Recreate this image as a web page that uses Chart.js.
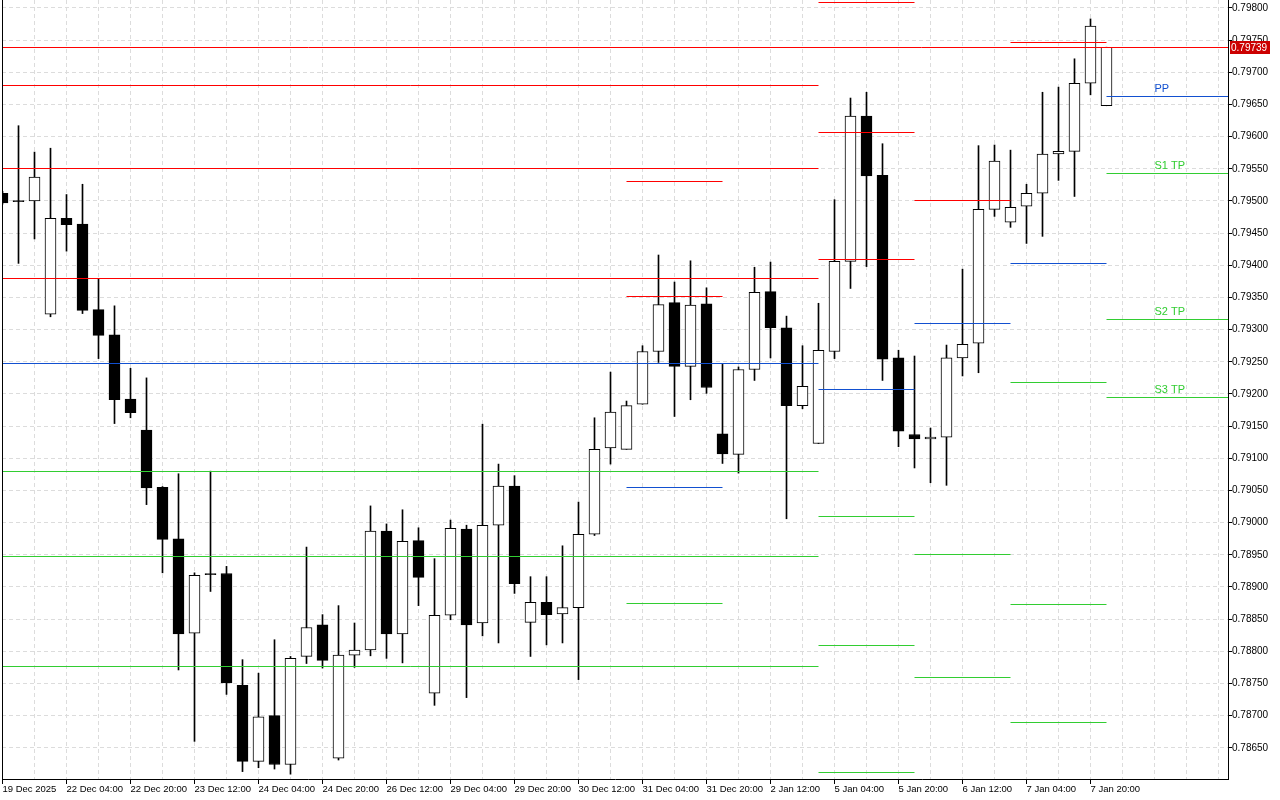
<!DOCTYPE html>
<html>
<head>
<meta charset="utf-8">
<script src="https://cdn.jsdelivr.net/npm/chart.js@4.4.1/dist/chart.umd.min.js"></script>
<style>
html,body{margin:0;padding:0;background:#ffffff;}
#wrap{width:1280px;height:800px;position:relative;}
canvas{display:block;}
</style>
</head>
<body>
<div id="wrap"><canvas id="c" width="1280" height="800"></canvas></div>
<script>
// ---------- DATA ----------
const timeLabels = ['19 Dec 2025','22 Dec 04:00','22 Dec 20:00','23 Dec 12:00','24 Dec 04:00','24 Dec 20:00',
  '26 Dec 12:00','29 Dec 04:00','29 Dec 20:00','30 Dec 12:00','31 Dec 04:00','31 Dec 20:00',
  '2 Jan 12:00','5 Jan 04:00','5 Jan 20:00','6 Jan 12:00','7 Jan 04:00','7 Jan 20:00'];

const opens = [0.79512,0.79500,0.79500,0.79324,0.79473,0.79464,0.79331,0.79292,0.79192,0.79144,
  0.79055,0.78975,0.78828,0.78921,0.78921,0.78747,0.78629,0.78700,0.78624,0.78792,
  0.78841,0.78634,0.78794,0.78802,0.78987,0.78827,0.78972,0.78735,0.78856,0.78990,
  0.78844,0.78996,0.79057,0.78845,0.78876,0.78858,0.78868,0.78982,0.79116,0.79114,
  0.79184,0.79266,0.79342,0.79243,0.79340,0.79138,0.79106,0.79238,0.79359,0.79303,
  0.79182,0.79123,0.79266,0.79406,0.79632,0.79540,0.79256,0.79137,0.79130,0.79133,
  0.79256,0.79279,0.79487,0.79467,0.79492,0.79512,0.79573,0.79577,0.79683,0.79648];
const highs = [0.79515,0.79617,0.79576,0.79582,0.79510,0.79526,0.79379,0.79337,0.79240,0.79225,
  0.79056,0.79076,0.78922,0.79080,0.78932,0.78787,0.78766,0.78818,0.78792,0.78962,
  0.78857,0.78871,0.78844,0.79026,0.78998,0.79020,0.78992,0.78944,0.79004,0.78996,
  0.79153,0.79091,0.79073,0.78916,0.78916,0.78964,0.79032,0.79163,0.79234,0.79189,
  0.79275,0.79416,0.79374,0.79407,0.79365,0.79246,0.79242,0.79397,0.79405,0.79321,
  0.79275,0.79341,0.79502,0.79660,0.79669,0.79589,0.79268,0.79259,0.79147,0.79276,
  0.79394,0.79586,0.79587,0.79579,0.79526,0.79669,0.79677,0.79721,0.79783,0.79739];
const lows = [0.79495,0.79403,0.79441,0.79320,0.79422,0.79325,0.79255,0.79154,0.79163,0.79028,
  0.78922,0.78771,0.78660,0.78893,0.78733,0.78613,0.78619,0.78617,0.78609,0.78781,
  0.78774,0.78631,0.78775,0.78793,0.78789,0.78782,0.78871,0.78716,0.78849,0.78728,
  0.78824,0.78813,0.78890,0.78792,0.78810,0.78813,0.78756,0.78980,0.79091,0.79114,
  0.79184,0.79249,0.79165,0.79191,0.79201,0.79092,0.79077,0.79221,0.79256,0.79006,
  0.79177,0.79123,0.79255,0.79364,0.79398,0.79221,0.79118,0.79085,0.79062,0.79058,
  0.79228,0.79233,0.79476,0.79459,0.79434,0.79445,0.79532,0.79507,0.79665,0.79648];
const closes = [0.79497,0.79499,0.79537,0.79473,0.79463,0.79330,0.79291,0.79191,0.79171,0.79054,
  0.78974,0.78827,0.78918,0.78919,0.78751,0.78629,0.78698,0.78624,0.78789,0.78837,
  0.78786,0.78794,0.78802,0.78987,0.78827,0.78971,0.78915,0.78856,0.78991,0.78841,
  0.78996,0.79057,0.78905,0.78876,0.78857,0.78868,0.78982,0.79114,0.79172,0.79182,
  0.79266,0.79339,0.79243,0.79338,0.79210,0.79107,0.79238,0.79358,0.79303,0.79182,
  0.79212,0.79268,0.79406,0.79632,0.79539,0.79254,0.79142,0.79130,0.79133,0.79256,
  0.79277,0.79487,0.79562,0.79490,0.79512,0.79573,0.79577,0.79683,0.79772,0.79739];

const lastPrice = 0.79739;

// pivot level segments (bar index from/to; null = chart edge)
const segFrom = [null, 39, 51, 57, 63, 69];
const segTo   = [51, 45, 57, 63, 69, null];
const segPivot = [0.79247, 0.79055, 0.79207, 0.79310, 0.79403, 0.79663];
const segResistance = [
  [0.79680, 0.79551, 0.79380],
  [0.79531, 0.79352],
  [0.79808, 0.79606, 0.79409],
  [0.79501],
  [0.79747],
  []
];
const segSupport = [
  [0.79079, 0.78947, 0.78777],
  [0.78875],
  [0.79010, 0.78809, 0.78612],
  [0.78951, 0.78760],
  [0.79218, 0.78873, 0.78690],
  [0.79543, 0.79315, 0.79195]
];
const currentLevelNames = ['PP', 'S1 TP', 'S2 TP', 'S3 TP'];

// ---------- LAYOUT / STYLE ----------
const X_MIN = -0.03125, X_MAX = 76.59375;
const Y_MIN = 0.786015, Y_MAX = 0.798124;
const RED = '#ff0000', BLUE = '#1250d0', GREEN = '#32cd32';
const GRID = '#dcdcdc';
const FONT = '"Liberation Sans", Arial, sans-serif';
const LABEL_BAR = 72;

const bodyData = opens.map((o, i) => ({x: i, y: [o, closes[i]]}));
const wickData = lows.map((l, i) => ({x: i, y: [l, highs[i]]}));

const lineSets = [];
function addLevel(from, to, v, color) {
  lineSets.push({
    type: 'line',
    data: [{x: from === null ? X_MIN : from, y: v}, {x: to === null ? X_MAX : to, y: v}],
    borderColor: color, borderWidth: 1, pointRadius: 0, pointHoverRadius: 0,
    fill: false, tension: 0, order: 0
  });
}
segPivot.forEach((pp, s) => {
  segResistance[s].forEach(v => addLevel(segFrom[s], segTo[s], v, RED));
  addLevel(segFrom[s], segTo[s], pp, BLUE);
  segSupport[s].forEach(v => addLevel(segFrom[s], segTo[s], v, GREEN));
});
addLevel(null, null, lastPrice, RED);

const decor = {
  id: 'decor',
  beforeDatasetsDraw(chart) {
    // snap horizontal level lines to the pixel grid so they render crisp
    chart.data.datasets.forEach((ds, i) => {
      if (ds.type !== 'line') return;
      chart.getDatasetMeta(i).data.forEach(pt => { pt.y = Math.floor(pt.y) + 0.5; });
    });
  },
  afterDatasetsDraw(chart) {
    const {ctx, chartArea: a, scales: {x, y}} = chart;
    ctx.save();
    ctx.strokeStyle = '#000'; ctx.lineWidth = 1;
    ctx.beginPath(); ctx.moveTo(a.left + 0.5, a.top); ctx.lineTo(a.left + 0.5, a.bottom + 1); ctx.stroke();
    const last = segPivot.length - 1;
    const vals = [segPivot[last]].concat(segSupport[last]);
    ctx.font = '11px ' + FONT;
    ctx.textAlign = 'left'; ctx.textBaseline = 'bottom';
    vals.forEach((v, i) => {
      ctx.fillStyle = i === 0 ? BLUE : GREEN;
      ctx.fillText(currentLevelNames[i], x.getPixelForValue(LABEL_BAR), Math.floor(y.getPixelForValue(v)) - 2);
    });
    ctx.restore();
  },
  afterDraw(chart) {
    const {ctx, chartArea: a, scales: {y}} = chart;
    const py = Math.floor(y.getPixelForValue(lastPrice));
    ctx.save();
    ctx.fillStyle = '#cc0000';
    ctx.fillRect(a.right + 2, py - 6, 40, 13);
    ctx.fillStyle = '#ffffff';
    ctx.font = '10px ' + FONT;
    ctx.textAlign = 'left'; ctx.textBaseline = 'middle';
    ctx.fillText(lastPrice.toFixed(5), a.right + 3, py + 1);
    ctx.restore();
  }
};

new Chart(document.getElementById('c'), {
  type: 'bar',
  data: {
    datasets: [
      ...lineSets,
      {
        type: 'bar', data: bodyData, order: 1, grouped: false,
        barThickness: 11, minBarLength: 1, borderWidth: 1, borderSkipped: false,
        borderColor: '#000000',
        backgroundColor: ctx => (closes[ctx.dataIndex] >= opens[ctx.dataIndex] ? '#ffffff' : '#000000')
      },
      {
        type: 'bar', data: wickData, order: 2, grouped: false,
        barThickness: 1, borderWidth: 0, backgroundColor: '#000000'
      }
    ]
  },
  options: {
    responsive: false, animation: false, devicePixelRatio: 1,
    layout: {padding: {left: 2, top: 0, right: 0, bottom: 0}, autoPadding: false},
    plugins: {legend: {display: false}, tooltip: {enabled: false}},
    events: [],
    scales: {
      x: {
        type: 'linear', position: 'bottom', min: X_MIN, max: X_MAX, offset: false,
        afterFit: s => { s.height = 21; s.paddingLeft = 0; s.paddingRight = 0; },
        grid: {color: GRID, offset: false, tickLength: 5, tickBorderDash: [],
               tickColor: c => (c.tick && c.tick.value % 4 === 0 && timeLabels[c.tick.value / 4] !== undefined
                                ? '#000000' : 'rgba(0,0,0,0)')},
        border: {display: true, color: '#000000', width: 1, dash: [4, 3]},
        ticks: {
          stepSize: 2, autoSkip: false, maxRotation: 0, minRotation: 0, includeBounds: false,
          align: 'start', labelOffset: 0, padding: 0, color: '#000000',
          font: {family: FONT, size: 9.5},
          callback: v => (v % 4 === 0 && timeLabels[v / 4] !== undefined ? timeLabels[v / 4] : '')
        }
      },
      y: {
        type: 'linear', position: 'right', min: Y_MIN, max: Y_MAX,
        afterFit: s => { s.width = 52; s.paddingTop = 0; s.paddingBottom = 0; },
        grid: {color: GRID, tickLength: 4, tickColor: '#000000', tickBorderDash: []},
        border: {display: true, color: '#000000', width: 1, dash: [4, 3]},
        ticks: {
          stepSize: 0.0005, includeBounds: false, padding: 0, color: '#000000',
          font: {family: FONT, size: 10},
          callback: v => Number(v).toFixed(5)
        }
      }
    }
  },
  plugins: [decor]
});
</script>
</body>
</html>
